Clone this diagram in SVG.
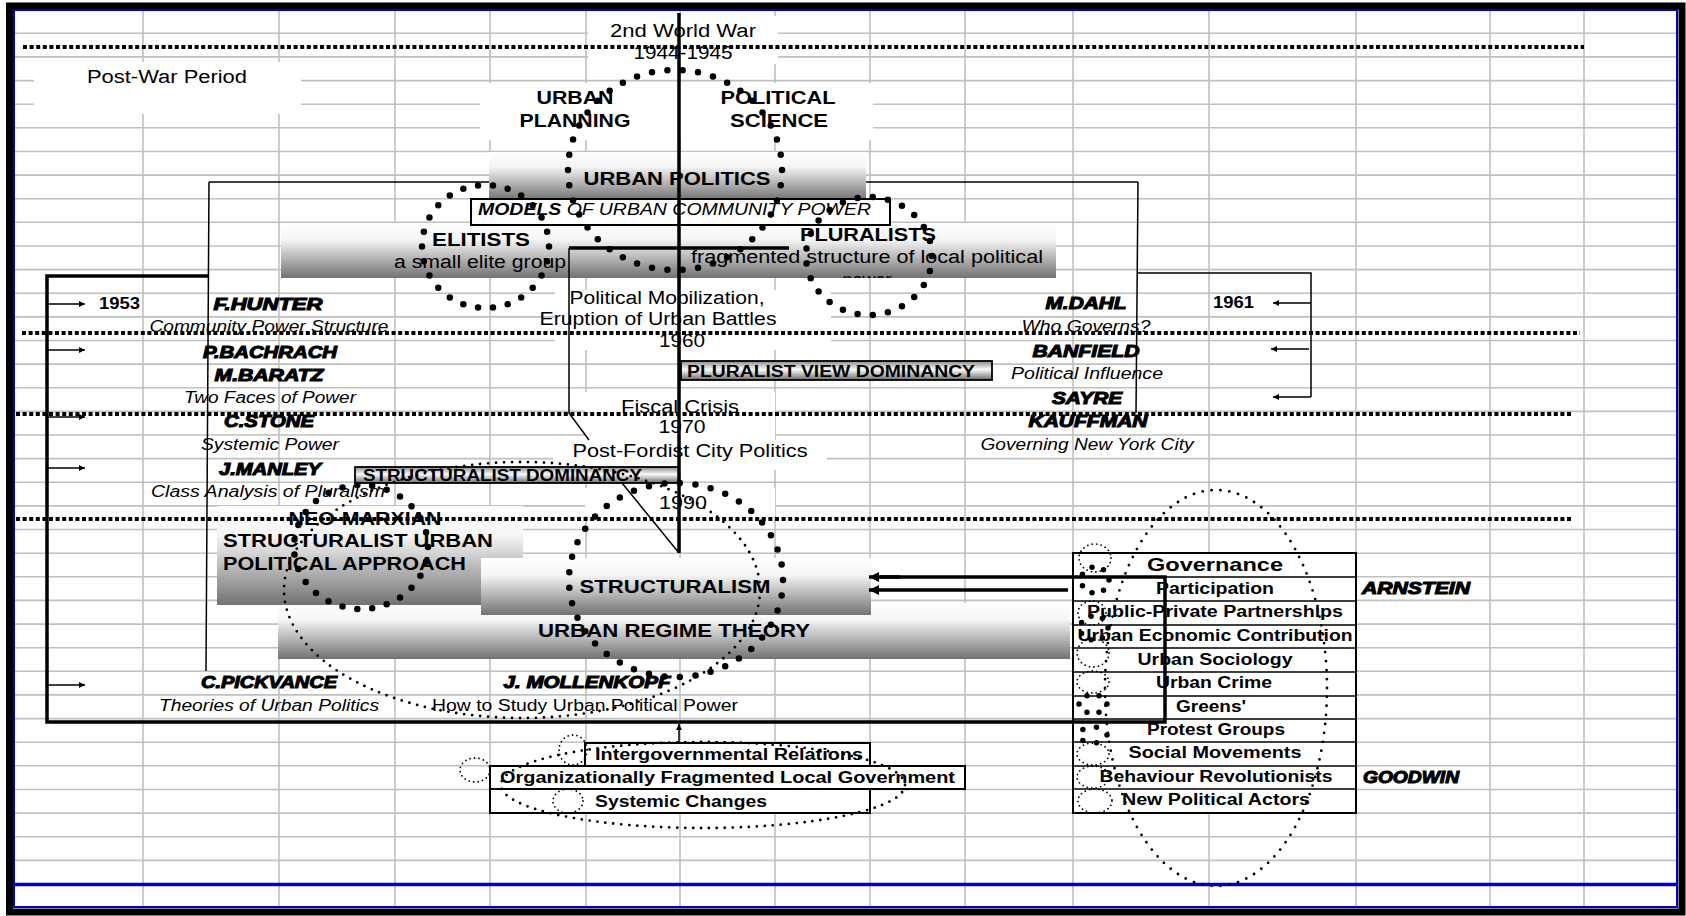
<svg xmlns="http://www.w3.org/2000/svg" width="1686" height="916" viewBox="0 0 1686 916">
<defs>
<style>
.grid{stroke:#c0c0c0;stroke-width:1.6;fill:none}
.wb{fill:#fff}
text{font-family:"Liberation Sans",Arial,sans-serif;fill:#000}
.r17{font-size:18px}
.b17{font-size:18px;font-weight:bold}
.b18{font-size:19px;font-weight:bold}
.au{font-size:17px;font-weight:bold;font-style:italic;stroke:#000;stroke-width:1.1}
.it{font-size:16px;font-style:italic}
.tb{font-size:16px;font-weight:bold}
.dl{stroke:#000;stroke-width:4;stroke-dasharray:4 2.6;fill:none}
.bd{fill:none;stroke:#000;stroke-width:6.5;stroke-linecap:round;stroke-dasharray:0 1}
.sd{fill:none;stroke:#000;stroke-width:2.8;stroke-linecap:round;stroke-dasharray:0 1}
.td{fill:none;stroke:#000;stroke-width:1.8;stroke-linecap:round;stroke-dasharray:0 4.5}
.gd{fill:none;stroke:#000;stroke-width:5.5;stroke-linecap:round;stroke-dasharray:0 1}
.thin{stroke:#000;stroke-width:1.5;fill:none}
.thick{stroke:#000;stroke-width:3.5;fill:none}
.box{fill:#fff;stroke:#000;stroke-width:2}
.gb{fill:url(#g)}
.mb{fill:url(#m);stroke:#000;stroke-width:1.8}
</style>
<linearGradient id="g" x1="0" y1="0" x2="0" y2="1"><stop offset="0" stop-color="#fff"/><stop offset="0.3" stop-color="#f5f5f5"/><stop offset="1" stop-color="#727272"/></linearGradient>
<linearGradient id="m" x1="0" y1="0" x2="0" y2="1"><stop offset="0" stop-color="#8a8a8a"/><stop offset="0.45" stop-color="#fafafa"/><stop offset="1" stop-color="#6a6a6a"/></linearGradient>
<marker id="ah" viewBox="0 0 10 10" refX="10" refY="5" markerWidth="9" markerHeight="6" markerUnits="userSpaceOnUse" orient="auto"><path d="M0,0L10,5L0,10z"/></marker>
<marker id="ahb" viewBox="0 0 10 10" refX="10" refY="5" markerWidth="14" markerHeight="10" markerUnits="userSpaceOnUse" orient="auto"><path d="M0,0L10,5L0,10z"/></marker>
<clipPath id="cp"><rect x="281" y="223" width="775" height="55"/></clipPath>
</defs>
<rect width="1686" height="916" fill="#fff"/>
<g id="grid">
<path class="grid" d="M14 33.3H1677M14 56.9H1677M14 80.6H1677M14 104.2H1677M14 127.8H1677M14 151.5H1677M14 175.1H1677M14 198.7H1677M14 222.3H1677M14 246H1677M14 269.6H1677M14 293.2H1677M14 316.9H1677M14 340.5H1677M14 364.1H1677M14 387.8H1677M14 411.4H1677M14 435H1677M14 458.6H1677M14 482.3H1677M14 505.9H1677M14 529.5H1677M14 553.2H1677M14 576.8H1677M14 600.4H1677M14 624.1H1677M14 647.7H1677M14 671.3H1677M14 694.9H1677M14 718.6H1677M14 742.2H1677M14 765.8H1677M14 789.5H1677M14 813.1H1677M14 836.7H1677M14 860.4H1677"/>
<path class="grid" d="M143 10V907M279 10V907M395 10V907M490 10V907M586 10V907M680 10V907M775 10V907M870 10V907M965 10V907M1073 10V907M1209 10V907M1356 10V907M1490 10V907M1584 10V907"/>
<rect class="wb" x="588" y="16" width="190" height="48"/>
<rect class="wb" x="34" y="62" width="267" height="52"/>
<rect class="wb" x="480" y="83" width="393" height="57"/>
<rect class="wb" x="555" y="290" width="276" height="60"/>
<rect class="wb" x="585" y="392" width="190" height="48"/>
<rect class="wb" x="553" y="440" width="274" height="30"/>
<rect class="wb" x="585" y="488" width="190" height="28"/>
</g>
<g id="frame">
<rect x="9.5" y="6" width="1672.5" height="906" fill="none" stroke="#000" stroke-width="7"/>
<rect x="14" y="10" width="1663" height="897" fill="none" stroke="#0000c8" stroke-width="2"/>
<line x1="14" y1="884.5" x2="1677" y2="884.5" stroke="#0000c8" stroke-width="3.5"/>
</g>
<g id="connectors-under">
<path class="thin" d="M209 182H1138"/>
</g>
<g id="urban-politics">
<rect class="gb" x="489" y="152" width="377" height="48"/>
<text class="b18" x="677" y="185" text-anchor="middle" textLength="187" lengthAdjust="spacingAndGlyphs">URBAN POLITICS</text>
</g>
<g id="elitists-pluralists">
<rect class="gb" x="281" y="223" width="775" height="55"/>
<text class="b18" x="481" y="246" text-anchor="middle" textLength="98" lengthAdjust="spacingAndGlyphs">ELITISTS</text>
<text class="r17" x="480" y="268" text-anchor="middle" textLength="172" lengthAdjust="spacingAndGlyphs">a small elite group</text>
<text class="b18" x="868" y="241" text-anchor="middle" textLength="136" lengthAdjust="spacingAndGlyphs">PLURALISTS</text>
<text class="r17" x="867" y="263" text-anchor="middle" textLength="352" lengthAdjust="spacingAndGlyphs">fragmented structure of local political</text>
<text class="r17" x="867" y="286" text-anchor="middle" clip-path="url(#cp)">power</text>
</g>
<g id="models">
<rect class="box" x="471" y="199" width="419" height="26"/>
<text x="478" y="215" font-size="16" font-style="italic" textLength="393" lengthAdjust="spacingAndGlyphs"><tspan font-weight="bold">MODELS </tspan> OF URBAN COMMUNITY POWER</text>
</g>
<g id="urban-regime">
<rect class="gb" x="278" y="603" width="792" height="56"/>
<text class="b18" x="674" y="637" text-anchor="middle" textLength="272" lengthAdjust="spacingAndGlyphs">URBAN REGIME THEORY</text>
</g>
<g id="neo-marxian">
<rect class="gb" x="217" y="506" width="306" height="99"/>
<text class="b17" x="365" y="525" text-anchor="middle" textLength="153" lengthAdjust="spacingAndGlyphs">NEO-MARXIAN</text>
<text class="b17" x="223" y="547" textLength="270" lengthAdjust="spacingAndGlyphs">STRUCTURALIST URBAN</text>
<text class="b17" x="223" y="570" textLength="243" lengthAdjust="spacingAndGlyphs">POLITICAL APPROACH</text>
</g>
<g id="structuralism">
<rect class="gb" x="481" y="558" width="390" height="57"/>
<text class="b18" x="675" y="593" text-anchor="middle" textLength="191" lengthAdjust="spacingAndGlyphs">STRUCTURALISM</text>
</g>
<g id="pluralist-dominancy">
<rect class="mb" x="681" y="361" width="311" height="19"/>
<text class="tb" x="687" y="377" textLength="288" lengthAdjust="spacingAndGlyphs">PLURALIST VIEW DOMINANCY</text>
</g>
<g id="structuralist-dominancy">
<rect class="mb" x="355" y="467" width="324" height="16"/>
<text class="tb" x="363" y="481" textLength="279" lengthAdjust="spacingAndGlyphs">STRUCTURALIST DOMINANCY</text>
</g>
<g id="governance">
<rect class="box" x="1073" y="553" width="283" height="260"/>
<path class="thin" stroke-width="2" d="M1073 577H1356M1073 601H1356M1073 625H1356M1073 648H1356M1073 672H1356M1073 696H1356M1073 719H1356M1073 742H1356M1073 766H1356M1073 789H1356"/>
<text x="1215" y="571" font-size="19" font-weight="bold" text-anchor="middle" textLength="136" lengthAdjust="spacingAndGlyphs">Governance</text>
<text class="tb" x="1215" y="594" text-anchor="middle" textLength="118" lengthAdjust="spacingAndGlyphs">Participation</text>
<text class="tb" x="1215" y="617" text-anchor="middle" textLength="256" lengthAdjust="spacingAndGlyphs">Public-Private Partnerships</text>
<text class="tb" x="1215" y="641" text-anchor="middle" textLength="275" lengthAdjust="spacingAndGlyphs">Urban Economic Contribution</text>
<text class="tb" x="1215" y="665" text-anchor="middle" textLength="155" lengthAdjust="spacingAndGlyphs">Urban Sociology</text>
<text class="tb" x="1214" y="688" text-anchor="middle" textLength="116" lengthAdjust="spacingAndGlyphs">Urban Crime</text>
<text class="tb" x="1211" y="712" text-anchor="middle" textLength="70" lengthAdjust="spacingAndGlyphs">Greens'</text>
<text class="tb" x="1216" y="735" text-anchor="middle" textLength="138" lengthAdjust="spacingAndGlyphs">Protest Groups</text>
<text class="tb" x="1215" y="758" text-anchor="middle" textLength="173" lengthAdjust="spacingAndGlyphs">Social Movements</text>
<text class="tb" x="1216" y="782" text-anchor="middle" textLength="233" lengthAdjust="spacingAndGlyphs">Behaviour Revolutionists</text>
<text class="tb" x="1216" y="805" text-anchor="middle" textLength="188" lengthAdjust="spacingAndGlyphs">New Political Actors</text>
</g>
<g id="bottom-boxes">
<rect class="box" x="585" y="743" width="285" height="23"/>
<rect class="box" x="490" y="766" width="475" height="23"/>
<rect class="box" x="490" y="789" width="380" height="24"/>
<text class="tb" x="595" y="760" textLength="268" lengthAdjust="spacingAndGlyphs">Intergovernmental Relations</text>
<text class="tb" x="500" y="783" textLength="455" lengthAdjust="spacingAndGlyphs">Organizationally Fragmented Local Government</text>
<text class="tb" x="595" y="807" textLength="172" lengthAdjust="spacingAndGlyphs">Systemic Changes</text>
</g>
<g id="labels">
<text class="r17" x="683" y="37" text-anchor="middle" textLength="146" lengthAdjust="spacingAndGlyphs">2nd World War</text>
<text class="r17" x="683" y="59" text-anchor="middle" textLength="99" lengthAdjust="spacingAndGlyphs">1944-1945</text>
<text class="r17" x="167" y="83" text-anchor="middle" textLength="160" lengthAdjust="spacingAndGlyphs">Post-War Period</text>
<text class="b17" x="575" y="104" text-anchor="middle" textLength="77" lengthAdjust="spacingAndGlyphs">URBAN</text>
<text class="b17" x="575" y="127" text-anchor="middle" textLength="111" lengthAdjust="spacingAndGlyphs">PLANNING</text>
<text class="b17" x="778" y="104" text-anchor="middle" textLength="115" lengthAdjust="spacingAndGlyphs">POLITICAL</text>
<text class="b17" x="779" y="127" text-anchor="middle" textLength="98" lengthAdjust="spacingAndGlyphs">SCIENCE</text>
<text class="r17" x="667" y="304" text-anchor="middle" textLength="195" lengthAdjust="spacingAndGlyphs">Political Mobilization,</text>
<text class="r17" x="658" y="325" text-anchor="middle" textLength="237" lengthAdjust="spacingAndGlyphs">Eruption of Urban Battles</text>
<text class="r17" x="682" y="347" text-anchor="middle" textLength="46" lengthAdjust="spacingAndGlyphs">1960</text>
<text class="r17" x="680" y="413" text-anchor="middle" textLength="118" lengthAdjust="spacingAndGlyphs">Fiscal Crisis</text>
<text class="r17" x="682" y="433" text-anchor="middle" textLength="47" lengthAdjust="spacingAndGlyphs">1970</text>
<text class="r17" x="690" y="457" text-anchor="middle" textLength="235" lengthAdjust="spacingAndGlyphs">Post-Fordist City Politics</text>
<text class="r17" x="683" y="509" text-anchor="middle" textLength="48" lengthAdjust="spacingAndGlyphs">1990</text>
<text class="tb" x="99" y="309" textLength="41" lengthAdjust="spacingAndGlyphs">1953</text>
<text class="tb" x="1213" y="308" textLength="41" lengthAdjust="spacingAndGlyphs">1961</text>
</g>
<g id="authors">
<text class="au" x="268" y="310" text-anchor="middle" textLength="109" lengthAdjust="spacingAndGlyphs">F.HUNTER</text>
<text class="it" x="269" y="332" text-anchor="middle" textLength="239" lengthAdjust="spacingAndGlyphs">Community Power Structure</text>
<text class="au" x="270" y="358" text-anchor="middle" textLength="134" lengthAdjust="spacingAndGlyphs">P.BACHRACH</text>
<text class="au" x="269" y="381" text-anchor="middle" textLength="109" lengthAdjust="spacingAndGlyphs">M.BARATZ</text>
<text class="it" x="270" y="403" text-anchor="middle" textLength="172" lengthAdjust="spacingAndGlyphs">Two Faces of Power</text>
<text class="au" x="269" y="427" text-anchor="middle" textLength="90" lengthAdjust="spacingAndGlyphs">C.STONE</text>
<text class="it" x="270" y="450" text-anchor="middle" textLength="138" lengthAdjust="spacingAndGlyphs">Systemic Power</text>
<text class="au" x="270" y="475" text-anchor="middle" textLength="102" lengthAdjust="spacingAndGlyphs">J.MANLEY</text>
<text class="it" x="268" y="497" text-anchor="middle" textLength="234" lengthAdjust="spacingAndGlyphs">Class Analysis of Pluralism</text>
<text class="au" x="269" y="688" text-anchor="middle" textLength="136" lengthAdjust="spacingAndGlyphs">C.PICKVANCE</text>
<text class="it" x="269" y="711" text-anchor="middle" textLength="220" lengthAdjust="spacingAndGlyphs">Theories of Urban Politics</text>
<text class="au" x="587" y="688" text-anchor="middle" textLength="167" lengthAdjust="spacingAndGlyphs">J. MOLLENKOPF</text>
<text x="585" y="711" font-size="16" text-anchor="middle" textLength="306" lengthAdjust="spacingAndGlyphs">How to Study Urban Political Power</text>
<text class="au" x="1086" y="309" text-anchor="middle" textLength="81" lengthAdjust="spacingAndGlyphs">M.DAHL</text>
<text class="it" x="1086" y="332" text-anchor="middle" textLength="129" lengthAdjust="spacingAndGlyphs">Who Governs?</text>
<text class="au" x="1086" y="357" text-anchor="middle" textLength="107" lengthAdjust="spacingAndGlyphs">BANFIELD</text>
<text class="it" x="1087" y="379" text-anchor="middle" textLength="152" lengthAdjust="spacingAndGlyphs">Political Influence</text>
<text class="au" x="1087" y="404" text-anchor="middle" textLength="70" lengthAdjust="spacingAndGlyphs">SAYRE</text>
<text class="au" x="1088" y="427" text-anchor="middle" textLength="119" lengthAdjust="spacingAndGlyphs">KAUFFMAN</text>
<text class="it" x="1087" y="450" text-anchor="middle" textLength="213" lengthAdjust="spacingAndGlyphs">Governing New York City</text>
<text class="au" x="1362" y="594" textLength="108" lengthAdjust="spacingAndGlyphs">ARNSTEIN</text>
<text class="au" x="1363" y="783" textLength="96" lengthAdjust="spacingAndGlyphs">GOODWIN</text>
</g>
<g id="dotted-lines">
<path class="dl" d="M23 47H1584M22 333H1580M16 414H1572M16 519H1572"/>
</g>
<g id="connectors">
<path class="thick" stroke-width="3" d="M679 13V553"/>
<path class="thin" d="M622 483L679 553"/>
<path class="thick" stroke-width="2.8" d="M569 248H789"/>
<path class="thin" d="M569 248V413L589 440"/>
<path class="thin" d="M209 182L206 671M1138 182L1136 413"/>
<path class="thin" d="M1138 273H1311V397"/>
<path class="thin" marker-end="url(#ah)" d="M1311 303H1273"/>
<path class="thin" marker-end="url(#ah)" d="M1309 349H1271"/>
<path class="thin" marker-end="url(#ah)" d="M1311 397H1273"/>
<path class="thick" d="M209 276H47V722H1165V577H880"/>
<path class="thick" marker-end="url(#ahb)" d="M900 577H869"/>
<path class="thick" marker-end="url(#ahb)" d="M1068 590H869"/>
<path class="thin" marker-end="url(#ah)" d="M47 304H85"/>
<path class="thin" marker-end="url(#ah)" d="M47 350H85"/>
<path class="thin" marker-end="url(#ah)" d="M47 417H85"/>
<path class="thin" marker-end="url(#ah)" d="M47 468H85"/>
<path class="thin" marker-end="url(#ah)" d="M47 685H85"/>
<path class="thin" marker-end="url(#ah)" d="M679 742V724"/>
</g>
<g id="circles">
<ellipse class="bd" cx="675" cy="170" rx="107" ry="100" pathLength="42"/>
<ellipse class="bd" cx="485.5" cy="246.5" rx="63.5" ry="61.5" pathLength="26"/>
<ellipse class="bd" cx="869" cy="256" rx="63" ry="59" pathLength="25"/>
<ellipse class="bd" cx="361" cy="547" rx="67" ry="62" pathLength="27"/>
<ellipse class="bd" cx="676" cy="580" rx="107" ry="97" pathLength="41"/>
<ellipse class="sd" cx="522" cy="590" rx="238" ry="128" pathLength="147"/>
<ellipse class="sd" cx="1216" cy="688" rx="111" ry="198" pathLength="110" stroke-width="3"/>
<ellipse class="sd" cx="703" cy="785" rx="202" ry="43" pathLength="107"/>
<ellipse class="td" cx="475" cy="770" rx="15" ry="12"/>
<ellipse class="td" cx="573" cy="750" rx="14" ry="15"/>
<ellipse class="td" cx="568" cy="801" rx="15" ry="12"/>
<ellipse class="td" cx="1095" cy="558" rx="16" ry="14"/>
<ellipse class="td" cx="1092" cy="613" rx="14" ry="12"/>
<ellipse class="td" cx="1093" cy="653" rx="16" ry="14"/>
<ellipse class="td" cx="1093" cy="682" rx="16" ry="11"/>
<ellipse class="td" cx="1093" cy="754" rx="16" ry="11"/>
<ellipse class="td" cx="1093" cy="777" rx="16" ry="11"/>
<ellipse class="td" cx="1095" cy="801" rx="17" ry="12"/>
<ellipse class="gd" cx="1095" cy="580" rx="14" ry="13" pathLength="7"/>
<ellipse class="gd" cx="1094" cy="628" rx="14" ry="12" pathLength="7"/>
<ellipse class="gd" cx="1093" cy="704" rx="14" ry="9" pathLength="6"/>
<ellipse class="gd" cx="1093" cy="735" rx="14" ry="8" pathLength="5"/>
</g>
</svg>
